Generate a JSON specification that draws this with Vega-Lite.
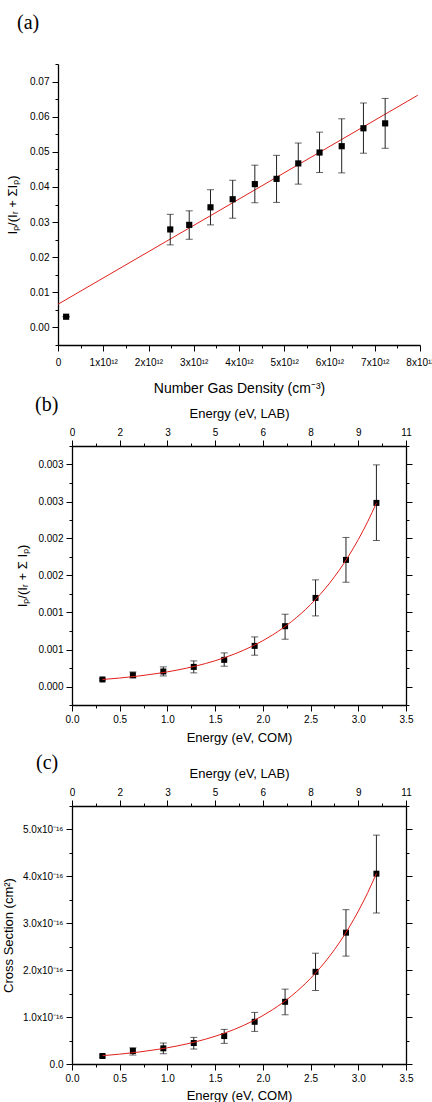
{
  "$schema": "https://vega.github.io/schema/vega-lite/v6.json",
  "background": "white",
  "padding": {"left": 2, "top": 13, "right": 0, "bottom": 0},
  "spacing": 101,
  "bounds": "flush",
  "center": true,
  "datasets": {
    "a": [
      {"n": 1.8e11, "r": 0.00305, "lo": 0.00305, "hi": 0.00305},
      {"n": 2.48e12, "r": 0.0279, "lo": 0.0235, "hi": 0.0322},
      {"n": 2.90e12, "r": 0.0292, "lo": 0.0251, "hi": 0.0332},
      {"n": 3.37e12, "r": 0.0342, "lo": 0.0292, "hi": 0.0392},
      {"n": 3.86e12, "r": 0.0365, "lo": 0.0311, "hi": 0.0419},
      {"n": 4.35e12, "r": 0.0408, "lo": 0.0355, "hi": 0.0462},
      {"n": 4.83e12, "r": 0.0423, "lo": 0.0356, "hi": 0.0490},
      {"n": 5.31e12, "r": 0.0467, "lo": 0.0408, "hi": 0.0525},
      {"n": 5.78e12, "r": 0.0498, "lo": 0.0441, "hi": 0.0556},
      {"n": 6.27e12, "r": 0.0516, "lo": 0.0440, "hi": 0.0594},
      {"n": 6.75e12, "r": 0.0567, "lo": 0.0496, "hi": 0.0639},
      {"n": 7.23e12, "r": 0.0581, "lo": 0.0510, "hi": 0.0652}
    ],
    "aFit": [
      {"n": 0, "r": 0.0066},
      {"n": 7.95e12, "r": 0.0661}
    ],
    "b": [
      {"E": 0.319, "r": 0.000095, "lo": 0.000085, "hi": 0.000105},
      {"E": 0.638, "r": 0.000153, "lo": 0.000116, "hi": 0.000197},
      {"E": 0.957, "r": 0.000203, "lo": 0.000143, "hi": 0.000265},
      {"E": 1.276, "r": 0.000265, "lo": 0.000184, "hi": 0.000346},
      {"E": 1.595, "r": 0.000360, "lo": 0.000274, "hi": 0.000454},
      {"E": 1.914, "r": 0.000549, "lo": 0.000423, "hi": 0.000670},
      {"E": 2.233, "r": 0.000815, "lo": 0.000639, "hi": 0.000977},
      {"E": 2.552, "r": 0.001197, "lo": 0.000954, "hi": 0.001441},
      {"E": 2.871, "r": 0.001711, "lo": 0.001409, "hi": 0.002014},
      {"E": 3.190, "r": 0.002481, "lo": 0.001973, "hi": 0.002995}
    ],
    "bFit": [
      {"E": 0.319, "r": 0.0000946},
      {"E": 0.5, "r": 0.0001145},
      {"E": 0.7, "r": 0.0001421},
      {"E": 0.9, "r": 0.0001771},
      {"E": 1.1, "r": 0.0002214},
      {"E": 1.3, "r": 0.0002774},
      {"E": 1.5, "r": 0.0003483},
      {"E": 1.7, "r": 0.0004380},
      {"E": 1.9, "r": 0.0005515},
      {"E": 2.1, "r": 0.0006951},
      {"E": 2.3, "r": 0.0008768},
      {"E": 2.5, "r": 0.0011069},
      {"E": 2.7, "r": 0.0013978},
      {"E": 2.9, "r": 0.0017659},
      {"E": 3.1, "r": 0.0022318},
      {"E": 3.19, "r": 0.0024791}
    ],
    "c": [
      {"E": 0.319, "cs": 1.70e-17, "lo": 1.45e-17, "hi": 1.95e-17},
      {"E": 0.638, "cs": 2.77e-17, "lo": 1.91e-17, "hi": 3.47e-17},
      {"E": 0.957, "cs": 3.34e-17, "lo": 2.19e-17, "hi": 4.47e-17},
      {"E": 1.276, "cs": 4.47e-17, "lo": 3.19e-17, "hi": 5.67e-17},
      {"E": 1.595, "cs": 5.96e-17, "lo": 4.40e-17, "hi": 7.38e-17},
      {"E": 1.914, "cs": 9.00e-17, "lo": 6.95e-17, "hi": 1.10e-16},
      {"E": 2.233, "cs": 1.326e-16, "lo": 1.049e-16, "hi": 1.596e-16},
      {"E": 2.552, "cs": 1.965e-16, "lo": 1.567e-16, "hi": 2.362e-16},
      {"E": 2.871, "cs": 2.80e-16, "lo": 2.30e-16, "hi": 3.29e-16},
      {"E": 3.190, "cs": 4.057e-16, "lo": 3.219e-16, "hi": 4.879e-16}
    ],
    "cFit": [
      {"E": 0.319, "cs": 1.774e-17},
      {"E": 0.5, "cs": 2.098e-17},
      {"E": 0.7, "cs": 2.549e-17},
      {"E": 0.9, "cs": 3.119e-17},
      {"E": 1.1, "cs": 3.840e-17},
      {"E": 1.3, "cs": 4.752e-17},
      {"E": 1.5, "cs": 5.907e-17},
      {"E": 1.7, "cs": 7.368e-17},
      {"E": 1.9, "cs": 9.217e-17},
      {"E": 2.1, "cs": 1.1555e-16},
      {"E": 2.3, "cs": 1.4515e-16},
      {"E": 2.5, "cs": 1.8261e-16},
      {"E": 2.7, "cs": 2.2999e-16},
      {"E": 2.9, "cs": 2.8995e-16},
      {"E": 3.1, "cs": 3.6582e-16},
      {"E": 3.19, "cs": 4.061e-16}
    ]
  },
  "vconcat": [
    {
      "width": 362,
      "height": 281,
      "title": {"text": "(a)", "anchor": "start", "frame": "group", "font": "Liberation Serif", "fontSize": 20, "fontWeight": "normal", "color": "#000", "dx": -41, "offset": 26},
      "resolve": {"axis": {"x": "independent", "y": "independent"}},
      "layer": [
        {
          "data": {"name": "aFit"},
          "mark": {"type": "line", "color": "#e0201c", "strokeWidth": 1},
          "encoding": {
            "x": {"field": "n", "type": "quantitative", "scale": {"domain": [0, 8e12], "nice": false, "zero": false},
              "axis": {
                "orient": "bottom",
                "values": [0, 5e11, 1e12, 1.5e12, 2e12, 2.5e12, 3e12, 3.5e12, 4e12, 4.5e12, 5e12, 5.5e12, 6e12, 6.5e12, 7e12, 7.5e12, 8e12],
                "labelExpr": "datum.value == 0 ? '0' : (abs(datum.value/1e12 - round(datum.value/1e12)) < 1e-6 ? format(datum.value/1e12, 'd') + 'x10¹²' : '')",
                "tickSize": {"condition": {"test": "abs(datum.value/1e12 - round(datum.value/1e12)) < 1e-6", "value": 6}, "value": 3},
                "labelPadding": 6,
                "title": "Number Gas Density (cm⁻³)",
                "titleFontSize": 14,
                "titlePadding": 14
              }},
            "y": {"field": "r", "type": "quantitative", "scale": {"domain": [-0.005, 0.075], "nice": false, "zero": false},
              "axis": {
                "orient": "left",
                "values": [-0.005, 0, 0.005, 0.01, 0.015, 0.02, 0.025, 0.03, 0.035, 0.04, 0.045, 0.05, 0.055, 0.06, 0.065, 0.07, 0.075],
                "labelExpr": "abs(datum.value*100 - round(datum.value*100)) < 1e-6 ? format(datum.value, '.2f') : ''",
                "tickSize": {"condition": {"test": "abs(datum.value*100 - round(datum.value*100)) < 1e-6", "value": 6}, "value": 3},
                "title": "Iₚ/(Iᵣ + ΣIₚ)",
                "titlePadding": 10
              }}
          }
        },
        {
          "data": {"name": "a"},
          "mark": {"type": "rule", "color": "#222", "strokeWidth": 1},
          "encoding": {
            "x": {"field": "n", "type": "quantitative", "axis": null},
            "y": {"field": "lo", "type": "quantitative", "axis": null},
            "y2": {"field": "hi"}
          }
        },
        {
          "data": {"name": "a"},
          "mark": {"type": "tick", "orient": "horizontal", "size": 7, "thickness": 1, "color": "#222"},
          "encoding": {
            "x": {"field": "n", "type": "quantitative", "axis": null},
            "y": {"field": "lo", "type": "quantitative", "axis": null}
          }
        },
        {
          "data": {"name": "a"},
          "mark": {"type": "tick", "orient": "horizontal", "size": 7, "thickness": 1, "color": "#222"},
          "encoding": {
            "x": {"field": "n", "type": "quantitative", "axis": null},
            "y": {"field": "hi", "type": "quantitative", "axis": null}
          }
        },
        {
          "data": {"name": "a"},
          "mark": {"type": "point", "shape": "square", "filled": true, "color": "#000", "opacity": 1, "size": 38},
          "encoding": {
            "x": {"field": "n", "type": "quantitative", "axis": null},
            "y": {"field": "r", "type": "quantitative", "axis": null}
          }
        }
      ]
    },
    {
      "width": 334,
      "height": 259,
      "title": {"text": "(b)", "anchor": "start", "frame": "group", "font": "Liberation Serif", "fontSize": 20, "fontWeight": "normal", "color": "#000", "dx": -37, "offset": -8},
      "resolve": {"axis": {"x": "independent", "y": "independent"}},
      "layer": [
        {
          "data": {"name": "b"},
          "mark": {"type": "rule", "color": "#222", "strokeWidth": 1},
          "encoding": {
            "x": {"field": "E", "type": "quantitative", "scale": {"domain": [0, 3.5], "nice": false, "zero": false},
              "axis": {
                "orient": "bottom",
                "values": [0, 0.25, 0.5, 0.75, 1, 1.25, 1.5, 1.75, 2, 2.25, 2.5, 2.75, 3, 3.25, 3.5],
                "labelExpr": "abs(datum.value*2 - round(datum.value*2)) < 1e-6 ? format(datum.value, '.1f') : ''",
                "tickSize": {"condition": {"test": "abs(datum.value*2 - round(datum.value*2)) < 1e-6", "value": 6}, "value": 3},
                "title": "Energy (eV, COM)",
                "titlePadding": 7
              }},
            "y": {"field": "lo", "type": "quantitative", "scale": {"domain": [-0.00025, 0.00325], "nice": false, "zero": false},
              "axis": {
                "orient": "left",
                "values": [-0.00025, 0, 0.00025, 0.0005, 0.00075, 0.001, 0.00125, 0.0015, 0.00175, 0.002, 0.00225, 0.0025, 0.00275, 0.003, 0.00325],
                "labelExpr": "abs(datum.value*2000 - round(datum.value*2000)) < 1e-6 ? format(round(datum.value*1000 + 0.01)/1000, '.3f') : ''",
                "tickSize": {"condition": {"test": "abs(datum.value*2000 - round(datum.value*2000)) < 1e-6", "value": 6}, "value": 3},
                "title": "Iₚ/(Iᵣ + Σ Iₚ)",
                "titlePadding": 8
              }},
            "y2": {"field": "hi"}
          }
        },
        {
          "data": {"name": "b"},
          "mark": {"type": "tick", "orient": "horizontal", "size": 7, "thickness": 1, "color": "#222"},
          "encoding": {
            "x": {"field": "E", "type": "quantitative",
              "axis": {
                "orient": "top",
                "values": [0, 0.25, 0.5, 0.75, 1, 1.25, 1.5, 1.75, 2, 2.25, 2.5, 2.75, 3, 3.25, 3.5],
                "labelExpr": "abs(datum.value*2 - round(datum.value*2)) < 1e-6 ? format(datum.value/0.319, '.0f') : ''",
                "tickSize": {"condition": {"test": "abs(datum.value*2 - round(datum.value*2)) < 1e-6", "value": 6}, "value": 3},
                "title": "Energy (eV, LAB)",
                "titlePadding": 7
              }},
            "y": {"field": "lo", "type": "quantitative",
              "axis": {
                "orient": "right",
                "values": [-0.00025, 0, 0.00025, 0.0005, 0.00075, 0.001, 0.00125, 0.0015, 0.00175, 0.002, 0.00225, 0.0025, 0.00275, 0.003, 0.00325],
                "labels": false,
                "tickSize": {"condition": {"test": "abs(datum.value*2000 - round(datum.value*2000)) < 1e-6", "value": 6}, "value": 3},
                "title": null
              }}
          }
        },
        {
          "data": {"name": "b"},
          "mark": {"type": "tick", "orient": "horizontal", "size": 7, "thickness": 1, "color": "#222"},
          "encoding": {
            "x": {"field": "E", "type": "quantitative", "axis": null},
            "y": {"field": "hi", "type": "quantitative", "axis": null}
          }
        },
        {
          "data": {"name": "b"},
          "mark": {"type": "point", "shape": "square", "filled": true, "color": "#000", "opacity": 1, "size": 36},
          "encoding": {
            "x": {"field": "E", "type": "quantitative", "axis": null},
            "y": {"field": "r", "type": "quantitative", "axis": null}
          }
        },
        {
          "data": {"name": "bFit"},
          "mark": {"type": "line", "color": "#e0201c", "strokeWidth": 1, "interpolate": "monotone"},
          "encoding": {
            "x": {"field": "E", "type": "quantitative", "axis": null},
            "y": {"field": "r", "type": "quantitative", "axis": null}
          }
        }
      ]
    },
    {
      "width": 334,
      "height": 258,
      "title": {"text": "(c)", "anchor": "start", "frame": "group", "font": "Liberation Serif", "fontSize": 20, "fontWeight": "normal", "color": "#000", "dx": -36, "offset": -6},
      "resolve": {"axis": {"x": "independent", "y": "independent"}},
      "layer": [
        {
          "data": {"name": "c"},
          "mark": {"type": "rule", "color": "#222", "strokeWidth": 1},
          "encoding": {
            "x": {"field": "E", "type": "quantitative", "scale": {"domain": [0, 3.5], "nice": false, "zero": false},
              "axis": {
                "orient": "bottom",
                "values": [0, 0.25, 0.5, 0.75, 1, 1.25, 1.5, 1.75, 2, 2.25, 2.5, 2.75, 3, 3.25, 3.5],
                "labelExpr": "abs(datum.value*2 - round(datum.value*2)) < 1e-6 ? format(datum.value, '.1f') : ''",
                "tickSize": {"condition": {"test": "abs(datum.value*2 - round(datum.value*2)) < 1e-6", "value": 6}, "value": 3},
                "title": "Energy (eV, COM)",
                "titlePadding": 6
              }},
            "y": {"field": "lo", "type": "quantitative", "scale": {"domain": [0, 5.5e-16], "nice": false, "zero": false},
              "axis": {
                "orient": "left",
                "values": [0, 5e-17, 1e-16, 1.5e-16, 2e-16, 2.5e-16, 3e-16, 3.5e-16, 4e-16, 4.5e-16, 5e-16, 5.5e-16],
                "labelExpr": "abs(datum.value*1e16 - round(datum.value*1e16)) < 1e-6 ? (datum.value == 0 ? '0.0' : format(datum.value*1e16, '.1f') + 'x10⁻¹⁶') : ''",
                "tickSize": {"condition": {"test": "abs(datum.value*1e16 - round(datum.value*1e16)) < 1e-6", "value": 6}, "value": 3},
                "title": "Cross Section (cm²)",
                "titlePadding": 7
              }},
            "y2": {"field": "hi"}
          }
        },
        {
          "data": {"name": "c"},
          "mark": {"type": "tick", "orient": "horizontal", "size": 7, "thickness": 1, "color": "#222"},
          "encoding": {
            "x": {"field": "E", "type": "quantitative",
              "axis": {
                "orient": "top",
                "values": [0, 0.25, 0.5, 0.75, 1, 1.25, 1.5, 1.75, 2, 2.25, 2.5, 2.75, 3, 3.25, 3.5],
                "labelExpr": "abs(datum.value*2 - round(datum.value*2)) < 1e-6 ? format(datum.value/0.319, '.0f') : ''",
                "tickSize": {"condition": {"test": "abs(datum.value*2 - round(datum.value*2)) < 1e-6", "value": 6}, "value": 3},
                "title": "Energy (eV, LAB)",
                "titlePadding": 7
              }},
            "y": {"field": "lo", "type": "quantitative",
              "axis": {
                "orient": "right",
                "values": [0, 5e-17, 1e-16, 1.5e-16, 2e-16, 2.5e-16, 3e-16, 3.5e-16, 4e-16, 4.5e-16, 5e-16, 5.5e-16],
                "labels": false,
                "tickSize": {"condition": {"test": "abs(datum.value*1e16 - round(datum.value*1e16)) < 1e-6", "value": 6}, "value": 3},
                "title": null
              }}
          }
        },
        {
          "data": {"name": "c"},
          "mark": {"type": "tick", "orient": "horizontal", "size": 7, "thickness": 1, "color": "#222"},
          "encoding": {
            "x": {"field": "E", "type": "quantitative", "axis": null},
            "y": {"field": "hi", "type": "quantitative", "axis": null}
          }
        },
        {
          "data": {"name": "c"},
          "mark": {"type": "point", "shape": "square", "filled": true, "color": "#000", "opacity": 1, "size": 36},
          "encoding": {
            "x": {"field": "E", "type": "quantitative", "axis": null},
            "y": {"field": "cs", "type": "quantitative", "axis": null}
          }
        },
        {
          "data": {"name": "cFit"},
          "mark": {"type": "line", "color": "#e0201c", "strokeWidth": 1, "interpolate": "monotone"},
          "encoding": {
            "x": {"field": "E", "type": "quantitative", "axis": null},
            "y": {"field": "cs", "type": "quantitative", "axis": null}
          }
        }
      ]
    }
  ],
  "config": {
    "view": {"stroke": null},
    "axis": {
      "grid": false,
      "labelFont": "Liberation Sans",
      "titleFont": "Liberation Sans",
      "labelFontSize": 10,
      "titleFontSize": 13,
      "titleFontWeight": "normal",
      "labelColor": "#000",
      "titleColor": "#000",
      "domainColor": "#000",
      "domainWidth": 1.3,
      "tickColor": "#000",
      "tickWidth": 1,
      "labelPadding": 3,
      "labelOverlap": false,
      "labelFlush": false,
      "labelBound": false
    }
  }
}
